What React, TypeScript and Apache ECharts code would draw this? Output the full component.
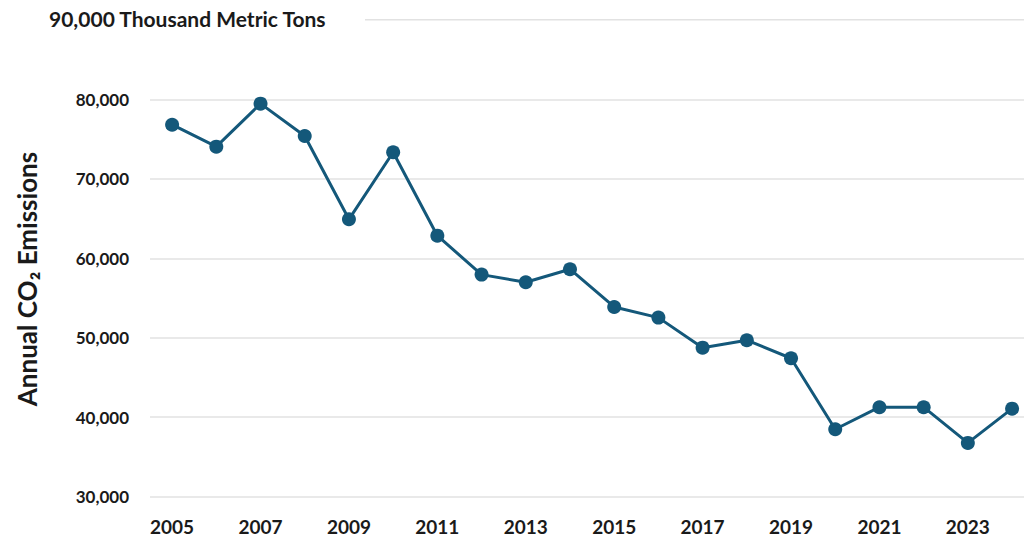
import React, { useEffect, useRef } from "react";
import * as echarts from "echarts";

const years = [2005, 2006, 2007, 2008, 2009, 2010, 2011, 2012, 2013, 2014, 2015, 2016, 2017, 2018, 2019, 2020, 2021, 2022, 2023, 2024];
const emissions = [76800, 74040, 79450, 75380, 64900, 73330, 62840, 57940, 56980, 58620, 53870, 52530, 48750, 49690, 47420, 38490, 41260, 41260, 36770, 41080];
const xTickLabels = [2005, 2007, 2009, 2011, 2013, 2015, 2017, 2019, 2021, 2023];
const yTicks = [30000, 40000, 50000, 60000, 70000, 80000, 90000];
const topLabel = "90,000 Thousand Metric Tons";
const yAxisTitle = "Annual CO\u2082 Emissions";

const FONT = "Lato, 'Noto Sans', sans-serif";
const LINE_COLOR = "#14587a";

export default function App() {
  const ref = useRef<HTMLDivElement>(null);
  useEffect(() => {
    if (!ref.current) return;
    const chart = echarts.init(ref.current, undefined, { renderer: "svg" });
    const fmt = (v: number) => v.toLocaleString("en-US");
    chart.setOption({
      animation: false,
      backgroundColor: "#ffffff",
      grid: { left: 150, right: 0, top: 19.8, bottom: 539 - 496.7, containLabel: false },
      xAxis: {
        type: "value",
        min: 2004.5,
        max: 2024.27,
        axisLine: { show: false },
        axisTick: { show: false },
        splitLine: { show: false },
        axisLabel: {
          customValues: xTickLabels,
          formatter: (v: number) => String(v),
          color: "#1a1a1a",
          fontFamily: FONT,
          fontWeight: "bold",
          fontSize: 19,
          margin: 20,
        },
      },
      yAxis: {
        type: "value",
        min: yTicks[0],
        max: yTicks[yTicks.length - 1],
        interval: 10000,
        axisLine: { show: false },
        axisTick: { show: false },
        splitLine: { show: true, showMaxLine: false, lineStyle: { color: "#e2e2e2", width: 1.5 } },
        axisLabel: {
          formatter: (v: number) => (v >= 90000 ? "" : fmt(v)),
          color: "#1a1a1a",
          fontFamily: FONT,
          fontWeight: "bold",
          fontSize: 17,
          margin: 21,
        },
      },
      graphic: [
        {
          type: "line",
          shape: { x1: 365, y1: 19.8, x2: 1024, y2: 19.8 },
          style: { stroke: "#e2e2e2", lineWidth: 1.5 },
          silent: true,
        },
        {
          type: "text",
          x: 49,
          y: 18,
          style: {
            text: topLabel,
            fill: "#1a1a1a",
            font: `bold 21px ${FONT}`,
            textAlign: "left",
            textVerticalAlign: "middle",
          },
        },
        {
          type: "text",
          x: 27,
          y: 279,
          rotation: Math.PI / 2,
          style: {
            text: yAxisTitle,
            fill: "#1a1a1a",
            font: `bold 26px ${FONT}`,
            textAlign: "center",
            textVerticalAlign: "middle",
          },
        },
      ],
      series: [
        {
          type: "line",
          data: years.map((y, i) => [y, emissions[i]]),
          symbol: "circle",
          symbolSize: 14,
          lineStyle: { color: LINE_COLOR, width: 3 },
          itemStyle: { color: LINE_COLOR },
        },
      ],
    });
    return () => chart.dispose();
  }, []);
  return (
    <div
      ref={ref}
      style={{ position: "fixed", left: 0, top: 0, width: 1024, height: 539 }}
    />
  );
}
